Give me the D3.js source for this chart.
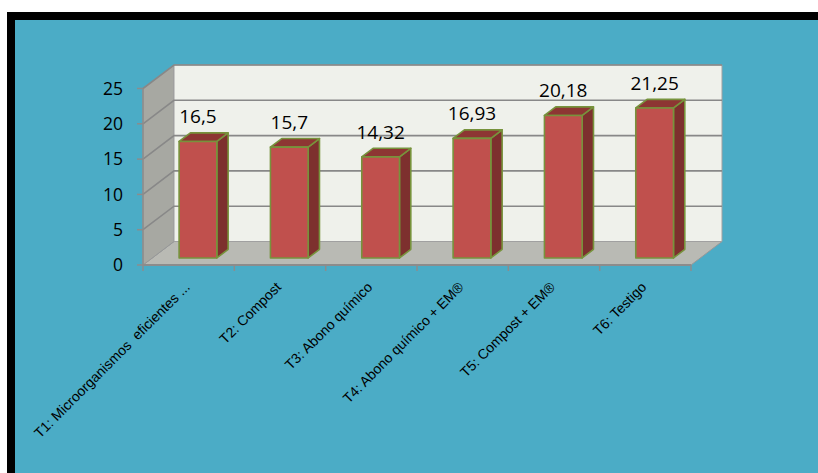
<!DOCTYPE html>
<html><head><meta charset="utf-8">
<script src="https://cdn.jsdelivr.net/npm/d3@7"></script>
<style>html,body{margin:0;padding:0;background:#fff;}svg{display:block;}.cat{white-space:pre;}</style>
</head><body>
<svg id="c" width="818" height="473"></svg>
<script>
const categories = ["T1: Microorganismos  eficientes ...", "T2: Compost", "T3: Abono químico", "T4: Abono químico + EM®", "T5: Compost + EM®", "T6: Testigo"];
const values = [16.5, 15.7, 14.32, 16.93, 20.18, 21.25];
const valueLabels = ["16,5", "15,7", "14,32", "16,93", "20,18", "21,25"];
const yTicks = [0, 5, 10, 15, 20, 25];

const svg = d3.select("#c");
// frame
svg.append("rect").attr("x", 7).attr("y", 12).attr("width", 830).attr("height", 480).attr("fill", "#000");
svg.append("rect").attr("x", 15).attr("y", 20).attr("width", 830).attr("height", 480).attr("fill", "#4BACC6");

const DX = 31, DY = -23.5; // depth of plot box
const x = d3.scaleBand().domain(categories).range([143, 691]);
const y = d3.scaleLinear().domain([0, 25]).range([265, 88.5]);
const g = svg.append("g");
const pt = (px, py, f) => [px + DX * f, py + DY * f];
const poly = pts => pts.map(p => p.join(",")).join(" ");

const x0 = x.range()[0], x1 = x.range()[1];
const y0 = y(0), yTop = y(25);
// floor
g.append("polygon").attr("points", poly([pt(x0, y0, 0), pt(x1, y0, 0), pt(x1, y0, 1), pt(x0, y0, 1)]))
  .attr("fill", "#B9BAB4").attr("stroke", "#989898").attr("stroke-width", 1);
// left wall
g.append("polygon").attr("points", poly([pt(x0, y0, 0), pt(x0, yTop, 0), pt(x0, yTop, 1), pt(x0, y0, 1)]))
  .attr("fill", "#A7A8A2").attr("stroke", "#989898").attr("stroke-width", 1);
// back wall
g.append("polygon").attr("points", poly([pt(x0, y0, 1), pt(x0, yTop, 1), pt(x1, yTop, 1), pt(x1, y0, 1)]))
  .attr("fill", "#EFF1EB").attr("stroke", "#A0A0A0").attr("stroke-width", 1);
// gridlines
yTicks.forEach(t => {
  if (t === 0) return;
  const a = pt(x0, y(t), 0), b = pt(x0, y(t), 1), c = pt(x1, y(t), 1);
  g.append("polyline").attr("points", poly([a, b, c])).attr("fill", "none")
    .attr("stroke", "#888888").attr("stroke-width", 1.6);
});
// floor front edge
g.append("line").attr("x1", x0).attr("x2", x1).attr("y1", y0).attr("y2", y0)
  .attr("stroke", "#8C8C8C").attr("stroke-width", 2);
// left axis line
g.append("line").attr("x1", x0).attr("x2", x0).attr("y1", y0).attr("y2", yTop)
  .attr("stroke", "#8C8C8C").attr("stroke-width", 1.5);
// y ticks + labels
yTicks.forEach(t => {
  g.append("line").attr("x1", x0 - 6).attr("x2", x0).attr("y1", y(t)).attr("y2", y(t))
    .attr("stroke", "#8C8C8C").attr("stroke-width", 1.5);
  g.append("text").attr("x", 123).attr("y", y(t)).attr("dy", "0.36em").attr("text-anchor", "end")
    .attr("font-family", "Open Sans").attr("font-size", 17.5).attr("fill", "#000").text(t);
});
// category ticks
const ticksX = categories.map(c => x(c)).concat([x1]);
ticksX.forEach(tx => {
  g.append("line").attr("x1", tx).attr("x2", tx).attr("y1", y0).attr("y2", y0 + 6)
    .attr("stroke", "#8C8C8C").attr("stroke-width", 1.5);
});
// bars
const fF = 0.3, fB = 0.665, bw = x.bandwidth() * 0.413;
categories.forEach((c, i) => {
  const cx = x(c) + x.bandwidth() / 2;
  const l = cx - bw / 2, r = cx + bw / 2;
  const yv = y(values[i]);
  const FBL = pt(l, y0, fF), FBR = pt(r, y0, fF), FTL = pt(l, yv, fF), FTR = pt(r, yv, fF);
  const BBR = pt(r, y0, fB), BTL = pt(l, yv, fB), BTR = pt(r, yv, fB);
  const st = {stroke: "#77933C", w: 1.6};
  g.append("polygon").attr("points", poly([FBR, FTR, BTR, BBR])).attr("fill", "#7D302E")
    .attr("stroke", st.stroke).attr("stroke-width", st.w).attr("stroke-linejoin", "round");
  g.append("polygon").attr("points", poly([FTL, FTR, BTR, BTL])).attr("fill", "#8D3633")
    .attr("stroke", st.stroke).attr("stroke-width", st.w).attr("stroke-linejoin", "round");
  g.append("polygon").attr("points", poly([FBL, FBR, FTR, FTL])).attr("fill", "#C0504D")
    .attr("stroke", st.stroke).attr("stroke-width", st.w).attr("stroke-linejoin", "round");
  g.append("text").attr("x", (FTL[0] + FTR[0]) / 2).attr("y", BTL[1] - 9.5).attr("text-anchor", "middle")
    .attr("font-family", "Open Sans").attr("font-size", 19).attr("fill", "#000").text(valueLabels[i]);
  // category label
  const lx = cx + 2, ly = 288;
  g.append("text").attr("class", "cat").attr("transform", `translate(${lx},${ly}) rotate(-45)`).attr("text-anchor", "end")
    .attr("font-family", "Liberation Sans").attr("font-size", 14).attr("fill", "#000").text(c);
});
</script>
</body></html>
